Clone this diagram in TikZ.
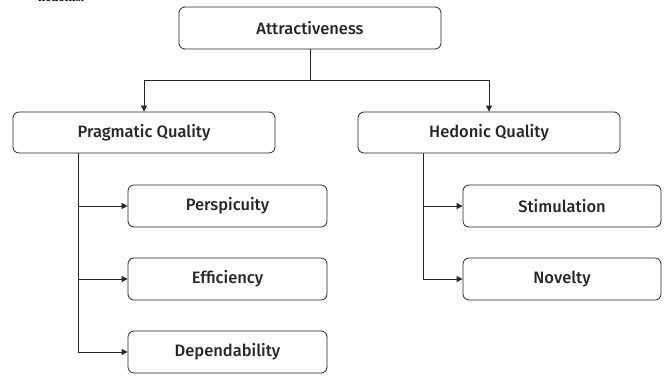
\documentclass[tikz,border=0pt]{standalone}
\usepackage{fontspec}
\setmainfont{Fira Sans}[UprightFont={* Medium},BoldFont={* SemiBold}]
\newfontfamily\serifcut{Liberation Serif}
\usetikzlibrary{arrows.meta}
\begin{document}
\begin{tikzpicture}[x=1pt,y=-1pt,
  box/.style={draw=black!85,line width=0.8pt,rounded corners=6pt,fill=white,inner sep=0pt,text=black!85,font=\fontsize{16.5}{18}\selectfont},
  link/.style={draw=black!85,line width=0.8pt},
  arr/.style={link,-{Triangle[length=6pt,width=6pt]}}]
\useasboundingbox (0,0) rectangle (668,376);
\node[anchor=base west,inner sep=0pt,font=\serifcut\bfseries\fontsize{13}{15}\selectfont] (cut) at (38,1) {hedonis.};
\node[box,minimum width=262pt,minimum height=42pt] (attr) at (310,28) {Attractiveness};
\node[box,minimum width=262pt,minimum height=41pt] (prag) at (144,132.5) {Pragmatic Quality};
\node[box,minimum width=262pt,minimum height=41pt] (hed) at (489,132.5) {Hedonic Quality};
\node[box,minimum width=199pt,minimum height=42pt] (persp) at (227.5,206) {Perspicuity};
\node[box,minimum width=199pt,minimum height=42pt] (eff) at (227.5,279) {Efficiency};
\node[box,minimum width=199pt,minimum height=42pt] (dep) at (227.5,352) {Dependability};
\node[box,minimum width=198pt,minimum height=42pt] (stim) at (562,206) {Stimulation};
\node[box,minimum width=198pt,minimum height=42pt] (nov) at (562,279) {Novelty};
\coordinate (j) at (310,80);
\draw[link] (attr.south) -- (j);
\draw[arr] (j) -| (prag.north);
\draw[arr] (j) -| (hed.north);
\coordinate (pv) at (78,0);
\coordinate (hv) at (423,0);
\draw[link] (prag.south -| pv) -- (dep.west -| pv);
\draw[arr] (persp.west -| pv) -- (persp.west);
\draw[arr] (eff.west -| pv) -- (eff.west);
\draw[arr] (dep.west -| pv) -- (dep.west);
\draw[link] (hed.south -| hv) -- (nov.west -| hv);
\draw[arr] (stim.west -| hv) -- (stim.west);
\draw[arr] (nov.west -| hv) -- (nov.west);
\end{tikzpicture}
\end{document}
